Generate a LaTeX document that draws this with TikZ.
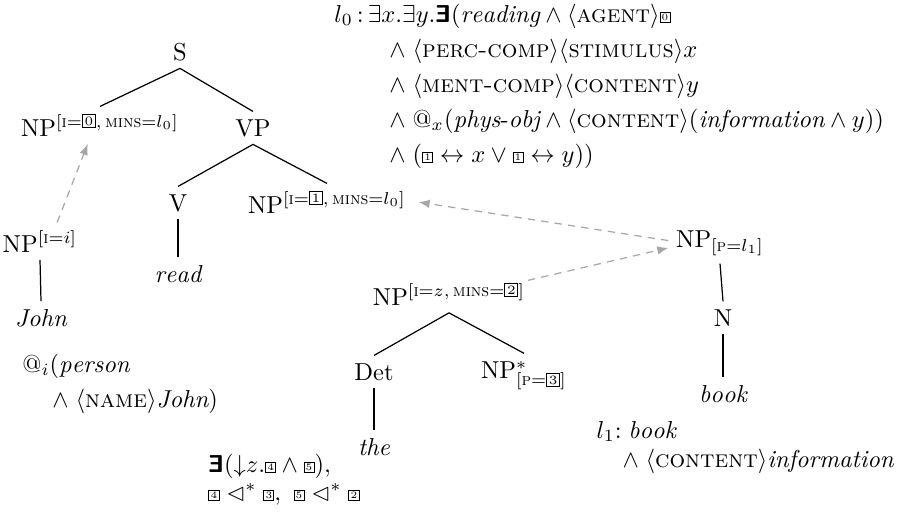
\documentclass[tikz,border=0pt]{standalone}
\usepackage{amsmath,amssymb}
\usepackage{fontspec}
\usetikzlibrary{arrows.meta,calc}
\newcommand{\bx}[1]{\mbox{\fboxsep=0pt\fboxrule=0.4pt\fbox{\makebox[3.7pt][c]{\rule{0pt}{3.7pt}\raisebox{0.45pt}{\fontsize{4}{5}\selectfont #1}}}}}
\newcommand{\bxs}[1]{\mbox{\fboxsep=0pt\fboxrule=0.45pt\fbox{\makebox[4.8pt][c]{\rule{0pt}{4.8pt}\raisebox{0.6pt}{\fontsize{5.2}{6}\selectfont #1}}}}}
\newcommand{\bex}{\mbox{\reflectbox{\textbf{\textsf{E}}}}}
\newcommand{\sca}[1]{\text{\textsc{#1}}}
\begin{document}
\begin{tikzpicture}[x=0.4082pt,y=-0.4082pt,
  cat/.style={anchor=base,inner sep=3pt},
  txt/.style={anchor=base west,inner sep=0pt},
  edge/.style={draw=black,line width=0.5pt},
  link/.style={draw=gray!70,dashed,dash pattern=on 3pt off 2.5pt,line width=0.5pt,-{Latex[length=4.5pt,width=3.5pt]}}]
\useasboundingbox (0,0) rectangle (920,513);
% formula l0
\node[txt] (f1) at (334,22) {$l_0\,{:}\,\exists x.\exists y.\bex(\mathit{reading}\wedge\langle\sca{agent}\rangle\bx{0}$};
\node[txt] (f2) at (389,57) {$\wedge\;\langle\sca{perc-comp}\rangle\langle\sca{stimulus}\rangle x$};
\node[txt] (f3) at (389,92) {$\wedge\;\langle\sca{ment-comp}\rangle\langle\sca{content}\rangle y$};
\node[txt] (f4) at (389,127) {$\wedge\;\text{@}_x(\mathit{phys\text{-}obj}\wedge\langle\sca{content}\rangle(\mathit{information}\wedge y))$};
\node[txt] (f5) at (389,162) {$\wedge\;(\bx{1}\leftrightarrow x\vee\bx{1}\leftrightarrow y))$};
% tree 1
\node[cat] (S) at (180,60) {S};
\node[cat] (NP0) at (100,136) {NP$^{[\sca{i}=\bxs{0},\,\sca{mins}=l_0]}$};
\node[cat] (VP) at (253,136) {VP};
\node[cat] (V) at (178,211) {V};
\node[cat] (NP1) at (327,213) {NP$^{[\sca{i}=\bxs{1},\,\sca{mins}=l_0]}$};
\node[cat] (read) at (178,282) {$\mathit{read}$};
\draw[edge] (S.south) -- (NP0.north);
\draw[edge] (S.south) -- (VP.north);
\draw[edge] (VP.south) -- (V.north);
\draw[edge] (VP.south) -- (NP1.north);
\draw[edge] (V.south) -- (read.north);
% John
\node[cat] (NPi) at (40,252) {NP$^{[\sca{i}=i]}$};
\node[cat] (John) at (41,326) {$\mathit{John}$};
\draw[edge] (NPi.south) -- (John.north);
\node[txt] (j1) at (22,372) {$\text{@}_i(\mathit{person}$};
\node[txt] (j2) at (52,407) {$\wedge\;\langle\sca{name}\rangle\mathit{John})$};
% book
\node[cat] (NPl) at (720,247) {NP$_{[\sca{p}=l_1]}$};
\node[cat] (N) at (723,326) {N};
\node[cat] (book) at (723,402) {$\mathit{book}$};
\draw[edge] (NPl.south) -- (N.north);
\draw[edge] (N.south) -- (book.north);
\node[txt] (b1) at (596,438) {$l_1{:}\;\mathit{book}$};
\node[txt] (b2) at (622,467) {$\wedge\;\langle\sca{content}\rangle\mathit{information}$};
% the
\node[cat] (NPz) at (449,305) {NP$^{[\sca{i}=z,\,\sca{mins}=\bxs{2}]}$};
\node[cat] (Det) at (374,380) {Det};
\node[cat] (NPs) at (524,378) {NP$^{*}_{[\sca{p}=\bxs{3}]}$};
\node[cat] (the) at (374,455) {$\mathit{the}$};
\draw[edge] (NPz.south) -- (Det.north);
\draw[edge] (NPz.south) -- (NPs.north);
\draw[edge] (Det.south) -- (the.north);
\node[txt] (t1) at (208,472) {$\bex({\downarrow}z.\bx{4}\wedge\bx{5}),$};
\node[txt] (t2) at (208,500) {$\bx{4}\mathrel{\lhd^{*}}\bx{3},\ \bx{5}\mathrel{\lhd^{*}}\bx{2}$};
% dashed links
\draw[link] ([xshift=7pt]NPi.north) -- ([xshift=-5pt]NP0.south);
\draw[link] ([yshift=1pt]NPl.west) -- ([xshift=2pt]NP1.east);
\draw[link] ([xshift=-2pt,yshift=-2pt]NPz.north east) -- ([yshift=-2pt]NPl.west);
\end{tikzpicture}
\end{document}
